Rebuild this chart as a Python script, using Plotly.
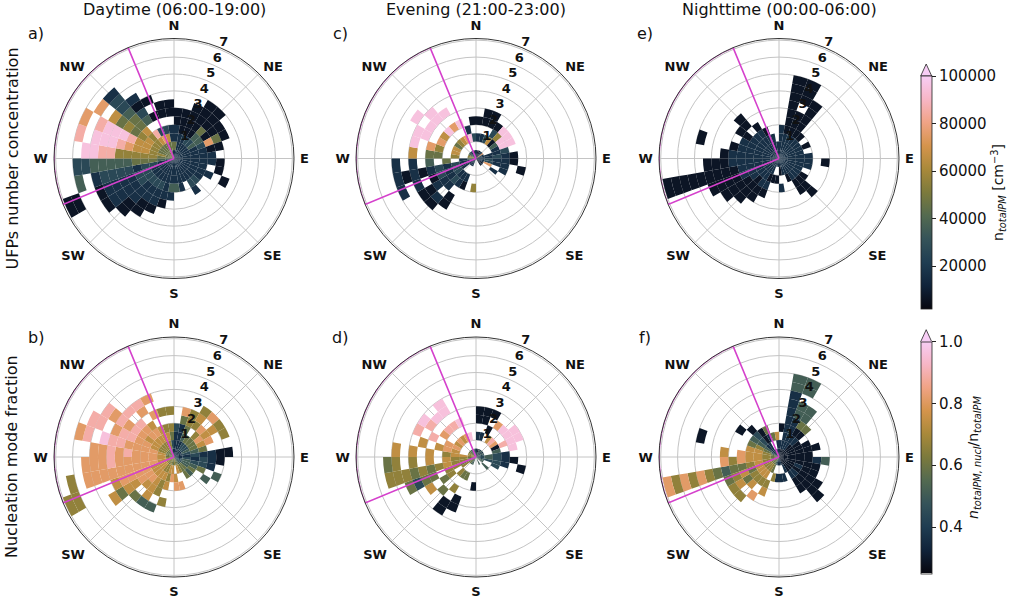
"""Polar wind-rose heatmaps: UFP number concentration and nucleation mode fraction."""

import numpy as np
import plotly.graph_objects as go

FONT = "DejaVu Sans"
W, H = 1024, 599

# bins: direction in degrees clockwise from north, wind speed in m/s
DIR_STEP = 10
SPEED_STEP = 0.5
R_MAX = 7.1
SPEED_TICKS = [1, 2, 3, 4, 5, 6, 7]
SPEED_LABEL_DIR = 22.5
COMPASS = ["N", "NE", "E", "SE", "S", "SW", "W", "NW"]
COMPASS_DEG = [0, 45, 90, 135, 180, 225, 270, 315]
SECTOR = (247.5, 337.5)

TITLES = ["Daytime (06:00-19:00)", "Evening (21:00-23:00)", "Nighttime (00:00-06:00)"]
ROW_TITLES = ["UFPs number concentration", "Nucleation mode fraction"]
PANEL_TAGS = [["a)", "c)", "e)"], ["b)", "d)", "f)"]]

# colour classes -> value of each class
UFP_LEVELS = {"0": 6900, "1": 16700, "2": 26500, "3": 36300, "4": 46100,
              "5": 55900, "6": 65700, "7": 75500, "8": 85300, "9": 95100}
FRAC_LEVELS = {"0": 0.29, "1": 0.36, "2": 0.44, "3": 0.51, "4": 0.59,
               "5": 0.66, "6": 0.74, "7": 0.81, "8": 0.89, "9": 0.96}

# one string per direction bin (0-10, 10-20, ... 350-360 deg),
# one character per speed bin (0-0.5, 0.5-1.0, ... m/s), "." = no data
UFP_DAY = [
    "141100", "111000", "1110000", "11200000", "11234000", "1133000",
    "1112740", "111100", "11111", "111110", "1111.0", "11111.0",
    "1111", "1112", "11121", "111", "1111", "1113",
    "11131", "111110", "1112110", "11121100", "111211100", "1112211110",
    "1112211110..00", "1122122221.3", "234443333322", "44555558899", "4556678999.8", "4456689998.7",
    "445654546.7", "44556443221", "4468.3201", "5472.0.0", "4462.00", "1411.00",
]
UFP_EVENING = [
    "1.1.0", "0.1.00", "0.2.00", "1.620", "1.059", "7.399",
    "1.199", "1112", "11210", "12110", "1211.0", "17.1",
    "0.1", "1", "0", "", "", "",
    "...5", "", "1.10", "1.11.00", "1.121.10", "11211100",
    "112120.1.1", "1121210101", "31.4.3.1.1", "4.5.44.6", "5.6.57.9", "4.6.7.99",
    "3.4.6.9.9", "2.5.9.99", "1.6.7.9", "1.7.9", "0.91", "1.2.0",
]
UFP_NIGHT = [
    "1111", "1110000000", "111000.000", "11100000", "1110", "111",
    "1110", "111", "1111", "1111.0", "1111", "111",
    "1110", "111000", "11100", "110", "11", "10.1",
    "1.0", "1.0", "11010", "111100", "1110000", "11110000",
    "111110000", "11111000000000", "111111000", "1111110", "111110...0", "11111",
    "111100", "1111.00", "11110", "1110", "111", "11",
]
FRAC_DAY = [
    "1112", "111147", "113455", "124.565", "12457.7", "1247665",
    "13467.5", "1234", "1121100", "121210", "23221", "2334.3",
    "234.3", "343", "344", "45", "46.7", "5.67",
    "467", "4656.5", "55655.3", "4566663", "56676.4", "566776646",
    "56677776....55", "56777777777.5", "56777778777", "4677787877", "467777889.87", "45677887.88",
    "4566787878", "456778.8", "45676.78", "4566.7.7", "4565.5", "1245.5",
]
FRAC_EVENING = [
    "1.1.00", "0.1.00", "3..0.0", "1.6.7", "3.8.9", "1.7.99",
    "3.0899", "2.3.9", "2321", "23210", "2221.0", "3.2",
    "3", ".3", "", "3", "", "",
    "...0", "", "3.4..00", "3.4.5.00", "4.5..4", "45.54.6",
    "4455.4424", "45565454555", "4556.6.5.54", "5665.6.6.6", "5.676.6", "5.77.8.8",
    "4.6.7.89", "4.7.8.9", "3.6.8.99", "3.7.9", "3.9", "2",
]
FRAC_NIGHT = [
    "11.0", "0111111133", "0111133.33", "0110433", "00104", "000",
    "0000", "00000", "0000", "000013", "00000", "00100",
    "000000", "0010000", "00100", "01", "1.1", "1.1",
    "1.1", "2.5", "34.56", "4565.7", "45656.5", "4565465",
    "4564654", "45654434575757", "4566757", "45667.6", "4566.....0", "3454",
    "2333.0", "11220", "1100", "1.14", "1.4", "116",
]

GRIDS = [[UFP_DAY, UFP_EVENING, UFP_NIGHT], [FRAC_DAY, FRAC_EVENING, FRAC_NIGHT]]

CMAP = [
    [0.0, "#07070f"], [0.1, "#10233a"], [0.2, "#1f3d52"], [0.3, "#355359"],
    [0.4, "#536a50"], [0.5, "#7c7a3c"], [0.6, "#a9893a"], [0.7, "#d5944c"],
    [0.8, "#f0a385"], [0.9, "#f7b6c6"], [1.0, "#f7cdf5"],
]

# layout in pixels
CENTERS_X = [174, 476, 779]
CENTERS_Y = [158.5, 457]
RADIUS_PX = 120
GRID_COLOR = "#c4c4c4"
SECTOR_COLOR = "#d541cc"


def px_x(x):
    return x / W


def px_y(y):
    return 1 - y / H


def cells_from_grid(grid, levels):
    theta, base, value = [], [], []
    for d, row in enumerate(grid):
        for k, code in enumerate(row):
            if code == ".":
                continue
            theta.append(d * DIR_STEP + DIR_STEP / 2)
            base.append(k * SPEED_STEP)
            value.append(levels[code])
    return theta, base, value


def polar_layout(cx, cy):
    return dict(
        domain=dict(
            x=[px_x(cx - RADIUS_PX), px_x(cx + RADIUS_PX)],
            y=[px_y(cy + RADIUS_PX), px_y(cy - RADIUS_PX)],
        ),
        bgcolor="white",
        angularaxis=dict(
            rotation=90,
            direction="clockwise",
            tickmode="array",
            tickvals=COMPASS_DEG,
            ticktext=[f"<b>{c}</b>" for c in COMPASS],
            tickfont=dict(family=FONT, size=13, color="#111"),
            ticks="outside",
            ticklen=3,
            tickcolor="rgba(0,0,0,0)",
            showgrid=True,
            gridcolor=GRID_COLOR,
            gridwidth=0.8,
            showline=True,
            linecolor="#333",
            linewidth=1,
        ),
        radialaxis=dict(
            range=[0, R_MAX],
            tickmode="array",
            tickvals=SPEED_TICKS,
            showticklabels=False,
            ticks="",
            showline=False,
            showgrid=True,
            gridcolor=GRID_COLOR,
            gridwidth=0.8,
        ),
    )


fig = go.Figure()
layout_polars = {}
n = 0
for row in range(2):
    levels = UFP_LEVELS if row == 0 else FRAC_LEVELS
    caxis = "coloraxis" if row == 0 else "coloraxis2"
    for col in range(3):
        n += 1
        name = "polar" if n == 1 else f"polar{n}"
        theta, base, value = cells_from_grid(GRIDS[row][col], levels)
        fig.add_trace(
            go.Barpolar(
                theta=theta,
                r=[SPEED_STEP] * len(theta),
                base=base,
                width=DIR_STEP,
                marker=dict(color=value, coloraxis=caxis, line=dict(width=0)),
                subplot=name,
                hoverinfo="skip",
            )
        )
        arc = list(np.linspace(SECTOR[0], SECTOR[1], 60))
        fig.add_trace(
            go.Scatterpolar(
                theta=[SECTOR[0]] + arc + [SECTOR[1]],
                r=[0] + [R_MAX] * len(arc) + [0],
                mode="lines",
                line=dict(color=SECTOR_COLOR, width=1.6),
                cliponaxis=False,
                subplot=name,
                hoverinfo="skip",
            )
        )
        # wind speed labels sit just outside their ring, along the NNE line
        fig.add_trace(
            go.Scatterpolar(
                theta=[SPEED_LABEL_DIR] * len(SPEED_TICKS),
                r=SPEED_TICKS,
                mode="text",
                text=[f"<b>{t}</b>" for t in SPEED_TICKS],
                textposition="top right",
                textfont=dict(family=FONT, size=13, color="#111"),
                cliponaxis=False,
                subplot=name,
                hoverinfo="skip",
            )
        )
        layout_polars[name] = polar_layout(CENTERS_X[col], CENTERS_Y[row])

annotations = []
for col, title in enumerate(TITLES):
    annotations.append(dict(x=px_x(CENTERS_X[col]), y=px_y(9), text=title,
                            font=dict(family=FONT, size=16, color="#111")))
for row, title in enumerate(ROW_TITLES):
    annotations.append(dict(x=px_x(12), y=px_y(CENTERS_Y[row]), text=title, textangle=-90,
                            font=dict(family=FONT, size=16, color="#111")))
TAG_X = [36, 340, 645]
TAG_Y = [33, 337]
for row in range(2):
    for col in range(3):
        annotations.append(dict(x=px_x(TAG_X[col]), y=px_y(TAG_Y[row]), text=PANEL_TAGS[row][col],
                                font=dict(family=FONT, size=16, color="#111")))
for a in annotations:
    a.update(xref="paper", yref="paper", showarrow=False, xanchor="center", yanchor="middle")


def colorbar(top, bottom, tickvals, ticktext, title):
    return dict(
        x=px_x(920.7), xanchor="left", xpad=0,
        y=px_y((top + bottom) / 2), yanchor="middle", ypad=0,
        len=bottom - top, lenmode="pixels",
        thickness=11, thicknessmode="pixels",
        outlinewidth=0.8, outlinecolor="#222",
        ticks="outside", ticklen=4, tickcolor="#222",
        tickvals=tickvals, ticktext=ticktext,
        tickfont=dict(family=FONT, size=15, color="#111"),
        title=dict(text=title, side="right", font=dict(family=FONT, size=14, color="#111")),
    )


def extend_triangle(top, color):
    x0, x1 = px_x(920.7), px_x(931.7)
    xm = (x0 + x1) / 2
    return dict(type="path", xref="paper", yref="paper",
                path=f"M {x0},{px_y(top)} L {xm},{px_y(top - 12)} L {x1},{px_y(top)} Z",
                fillcolor=color, line=dict(color="#222", width=0.8))


fig.update_layout(
    width=W,
    height=H,
    margin=dict(l=0, r=0, t=0, b=0, autoexpand=False),
    paper_bgcolor="white",
    showlegend=False,
    font=dict(family=FONT, color="#111"),
    annotations=annotations,
    coloraxis=dict(
        colorscale=CMAP, cmin=2000, cmax=100000,
        colorbar=colorbar(76, 309, [20000, 40000, 60000, 80000, 100000],
                          ["20000", "40000", "60000", "80000", "100000"],
                          "n<sub><i>totalPM</i></sub> [cm<sup>−3</sup>]"),
    ),
    coloraxis2=dict(
        colorscale=CMAP, cmin=0.25, cmax=1.0,
        colorbar=colorbar(341.7, 573.3, [0.4, 0.6, 0.8, 1.0], ["0.4", "0.6", "0.8", "1.0"],
                          "<i>n<sub>totalPM, nucl</sub></i>/n<sub><i>totalPM</i></sub>"),
    ),
    shapes=[extend_triangle(76, CMAP[-1][1]), extend_triangle(341.7, CMAP[-1][1])],
    **layout_polars,
)

# drop the default page margin so the figure sits at the window's corner
fig.write_html("out.html", config={"displayModeBar": False},
               post_script="document.body.style.margin = '0';")
